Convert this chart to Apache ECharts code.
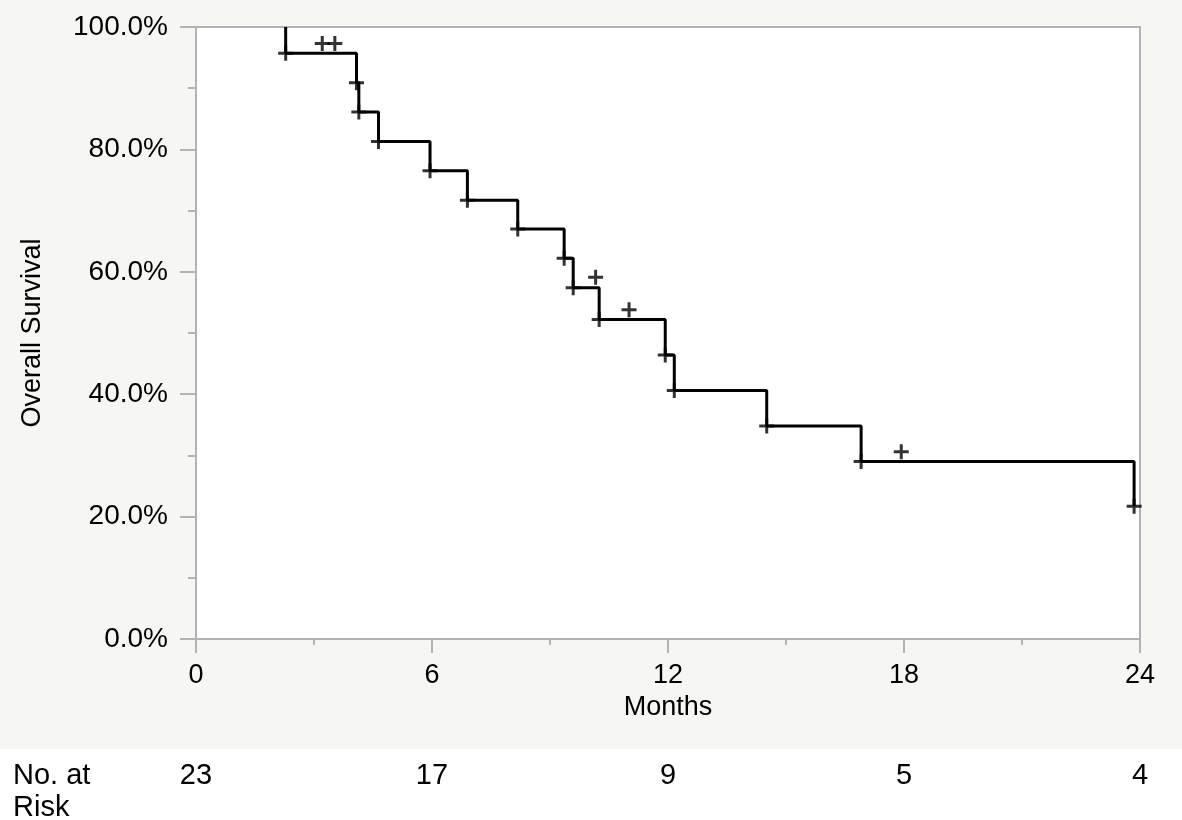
<!DOCTYPE html>
<html>
<head>
<meta charset="utf-8">
<script src="https://cdn.jsdelivr.net/npm/echarts@6/dist/echarts.min.js"></script>
<style>
  html, body { margin: 0; padding: 0; background: #fff; }
  #chart { width: 1182px; height: 820px; }
</style>
</head>
<body>
<div id="chart"></div>
<script>
// Kaplan-Meier steps (months, survival %)
var eventTimes = [2.28, 4.08, 4.14, 4.64, 5.95, 6.90, 8.18, 9.36, 9.59, 10.25, 11.93, 12.16, 14.51, 16.91, 23.85];
var eventSurv = [95.7, 90.9, 86.1, 81.3, 76.5, 71.7, 67.0, 62.2, 57.4, 52.2, 46.4, 40.6, 34.8, 29.0, 21.7];
// censored marks
var censorTimes = [3.21, 3.53, 10.16, 11.01, 17.93];
var censorSurv = [97.3, 97.3, 59.1, 53.8, 30.6];
// number at risk table
var riskMonths = [0, 6, 12, 18, 24];
var riskCounts = [23, 17, 9, 5, 4];

var FONT = "'Liberation Sans', Arial, Helvetica, sans-serif";
var GRAY = "#b3b3b3";
var PLUS = "path://M6,0h3v6h6v3h-6v6h-3v-6h-6v-3h6z";

var stepData = [[eventTimes[0], 100]];
var eventMarks = [];
for (var i = 0; i < eventTimes.length; i++) {
  stepData.push([eventTimes[i], eventSurv[i]]);
  eventMarks.push([eventTimes[i], eventSurv[i]]);
}
var censorMarks = censorTimes.map(function (t, i) {
  return [t, censorSurv[i]];
});

var myChart = echarts.init(document.getElementById("chart"));
var option = {
  backgroundColor: "#f6f6f2",
  animation: false,
  grid: {
    left: 196,
    right: 42,
    top: 27,
    bottom: 181,
    containLabel: false,
    outerBoundsMode: "none",
    show: true,
    backgroundColor: "#fff",
    borderColor: GRAY,
    borderWidth: 2,
  },
  xAxis: {
    type: "value",
    min: 0,
    max: 24,
    interval: 6,
    name: "Months",
    nameLocation: "middle",
    nameGap: 52,
    nameTextStyle: { fontFamily: FONT, fontSize: 27, color: "#000" },
    axisLine: { lineStyle: { color: GRAY, width: 2 } },
    axisTick: { length: 14, lineStyle: { color: GRAY, width: 2 } },
    minorTick: { show: true, splitNumber: 2, length: 6, lineStyle: { color: GRAY, width: 2 } },
    splitLine: { show: false },
    axisLabel: { margin: 23, fontFamily: FONT, fontSize: 27, color: "#000" },
  },
  yAxis: {
    type: "value",
    min: 0,
    max: 100,
    interval: 20,
    name: "Overall Survival",
    nameLocation: "middle",
    nameRotate: 90,
    nameGap: 150,
    nameTextStyle: { fontFamily: FONT, fontSize: 27, color: "#000" },
    axisLine: { show: true, lineStyle: { color: GRAY, width: 2 } },
    axisTick: { show: true, length: 16, lineStyle: { color: GRAY, width: 2 } },
    minorTick: { show: true, splitNumber: 2, length: 8, lineStyle: { color: GRAY, width: 2 } },
    splitLine: { show: false },
    axisLabel: {
      margin: 28,
      fontFamily: FONT,
      fontSize: 28,
      color: "#000",
      formatter: function (v) {
        return v.toFixed(1) + "%";
      },
    },
  },
  series: [
    {
      type: "line",
      step: "end",
      data: stepData,
      symbol: "none",
      lineStyle: { color: "#000", width: 3 },
      z: 3,
    },
    {
      type: "scatter",
      data: eventMarks,
      symbol: PLUS,
      symbolSize: 15,
      itemStyle: { color: "#000" },
      z: 4,
    },
    {
      type: "scatter",
      data: censorMarks,
      symbol: PLUS,
      symbolSize: 15,
      itemStyle: { color: "#000" },
      z: 4,
    },
  ],
};
myChart.setOption(option);

// number at risk row, positioned from the x axis scale
var riskGraphics = [
  { type: "rect", shape: { x: 0, y: 749, width: 1182, height: 71 }, style: { fill: "#fff" } },
  { type: "text", x: 13, y: 776, style: { text: "No. at", font: "29px " + FONT, fill: "#000", verticalAlign: "middle" } },
  { type: "text", x: 13, y: 808, style: { text: "Risk", font: "29px " + FONT, fill: "#000", verticalAlign: "middle" } },
];
riskMonths.forEach(function (m, i) {
  var px = myChart.convertToPixel({ xAxisIndex: 0 }, m);
  riskGraphics.push({
    type: "text",
    x: px,
    y: 776,
    style: {
      text: String(riskCounts[i]),
      font: "29px " + FONT,
      fill: "#000",
      align: "center",
      verticalAlign: "middle",
    },
  });
});
myChart.setOption({ graphic: riskGraphics });
</script>
</body>
</html>
